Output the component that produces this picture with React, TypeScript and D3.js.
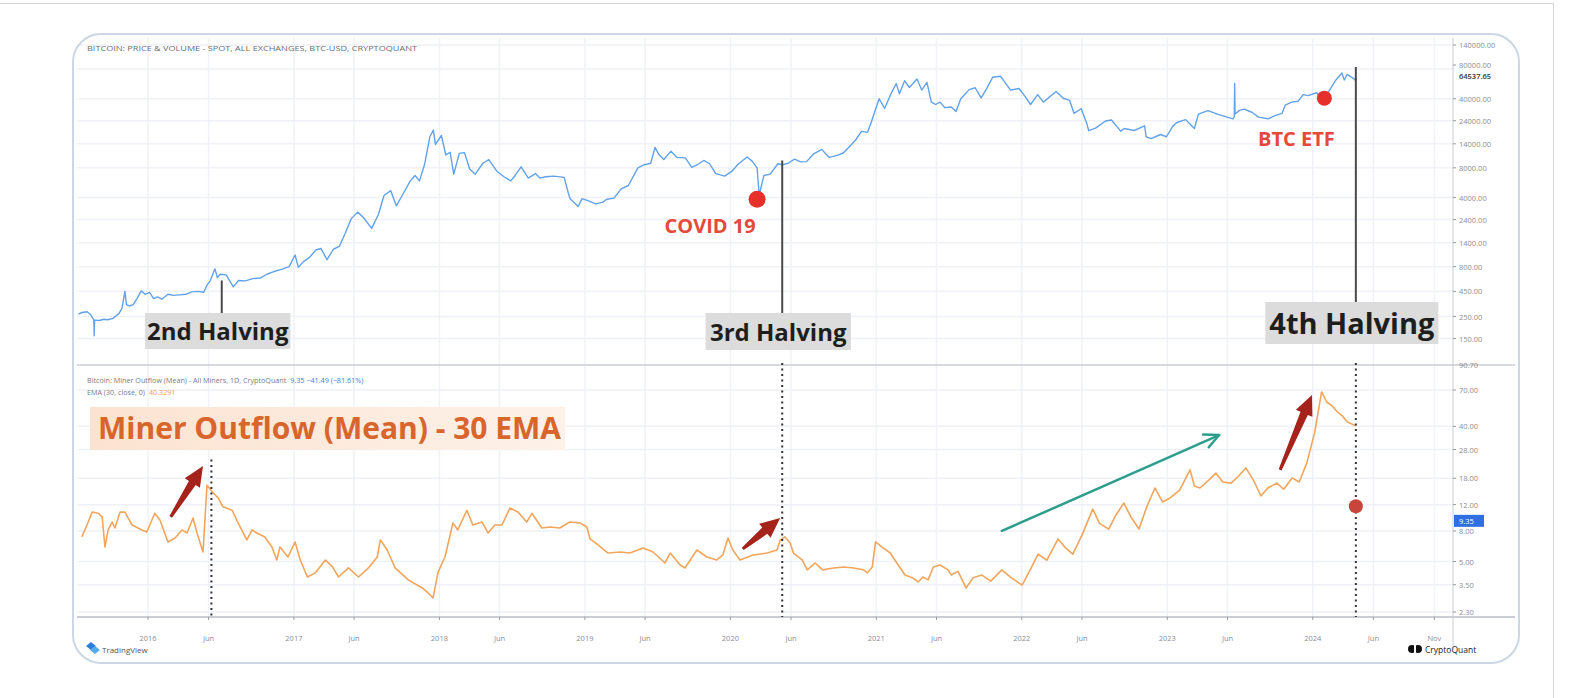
import React from 'react';
import * as d3 from 'd3';

// ---------- DATA ----------
const priceData: [string, number][] = [
  ['2015-07-10', 265], ['2015-07-20', 275], ['2015-08-01', 280], ['2015-08-10', 262], ['2015-08-18', 232],
  ['2015-08-19', 160], ['2015-08-20', 230], ['2015-09-01', 228], ['2015-09-12', 235], ['2015-09-22', 232],
  ['2015-10-05', 240], ['2015-10-20', 268], ['2015-10-28', 305], ['2015-11-04', 450], ['2015-11-08', 330],
  ['2015-11-15', 320], ['2015-11-25', 330], ['2015-12-05', 385], ['2015-12-15', 455], ['2015-12-25', 420],
  ['2016-01-05', 440], ['2016-01-15', 380], ['2016-01-25', 395], ['2016-02-05', 375], ['2016-02-20', 420],
  ['2016-03-05', 410], ['2016-03-20', 415], ['2016-04-05', 420], ['2016-04-20', 445], ['2016-05-05', 450],
  ['2016-05-20', 440], ['2016-05-28', 520], ['2016-06-05', 575], ['2016-06-17', 760], ['2016-06-23', 620],
  ['2016-06-30', 670], ['2016-07-15', 660], ['2016-08-02', 500], ['2016-08-15', 580], ['2016-09-01', 575],
  ['2016-09-20', 605], ['2016-10-10', 615], ['2016-10-25', 670], ['2016-11-10', 710], ['2016-12-01', 750],
  ['2016-12-20', 800], ['2017-01-04', 1050], ['2017-01-12', 790], ['2017-01-25', 900], ['2017-02-10', 1000],
  ['2017-02-25', 1180], ['2017-03-10', 1220], ['2017-03-25', 940], ['2017-04-10', 1200], ['2017-04-25', 1280],
  ['2017-05-10', 1750], ['2017-05-25', 2450], ['2017-06-10', 2850], ['2017-06-25', 2500], ['2017-07-15', 1950],
  ['2017-08-01', 2700], ['2017-08-15', 4200], ['2017-09-01', 4700], ['2017-09-15', 3300], ['2017-10-01', 4300],
  ['2017-10-20', 5900], ['2017-11-01', 6700], ['2017-11-12', 5900], ['2017-11-25', 8700], ['2017-12-08', 16500],
  ['2017-12-17', 19300], ['2017-12-22', 13800], ['2018-01-06', 17000], ['2018-01-17', 10800], ['2018-01-28', 11500],
  ['2018-02-06', 6900], ['2018-02-20', 11200], ['2018-03-05', 11400], ['2018-03-18', 7800], ['2018-04-01', 6900],
  ['2018-04-20', 8900], ['2018-05-05', 9700], ['2018-05-25', 7400], ['2018-06-12', 6500], ['2018-06-29', 5900],
  ['2018-07-10', 6700], ['2018-07-25', 8200], ['2018-08-12', 6300], ['2018-08-30', 7000], ['2018-09-10', 6300],
  ['2018-09-25', 6500], ['2018-10-15', 6600], ['2018-11-10', 6400], ['2018-11-20', 4500], ['2018-11-25', 3900],
  ['2018-12-15', 3250], ['2018-12-25', 3900], ['2019-01-10', 3700], ['2019-01-28', 3450], ['2019-02-15', 3600],
  ['2019-02-25', 3850], ['2019-03-15', 3950], ['2019-04-02', 4900], ['2019-04-20', 5300], ['2019-05-14', 8000],
  ['2019-05-30', 8600], ['2019-06-15', 8900], ['2019-06-26', 12900], ['2019-07-05', 11000], ['2019-07-18', 9700],
  ['2019-08-05', 11800], ['2019-08-20', 10200], ['2019-09-10', 10100], ['2019-09-26', 8100], ['2019-10-10', 8600],
  ['2019-10-26', 9500], ['2019-11-10', 8800], ['2019-11-25', 7000], ['2019-12-18', 6600], ['2020-01-05', 7400],
  ['2020-01-20', 8700], ['2020-02-12', 10300], ['2020-02-25', 9300], ['2020-03-08', 8000], ['2020-03-12', 4900],
  ['2020-03-13', 4200], ['2020-03-25', 6700], ['2020-04-10', 6900], ['2020-04-29', 8800], ['2020-05-11', 8600],
  ['2020-05-25', 8900], ['2020-06-10', 9800], ['2020-06-25', 9200], ['2020-07-10', 9250], ['2020-07-27', 11000],
  ['2020-08-17', 12300], ['2020-09-05', 10200], ['2020-09-25', 10700], ['2020-10-10', 11300], ['2020-10-25', 13000],
  ['2020-11-10', 15300], ['2020-11-25', 18700], ['2020-12-10', 18300], ['2020-12-20', 23500], ['2021-01-08', 40000],
  ['2021-01-22', 32000], ['2021-02-08', 46000], ['2021-02-20', 57000], ['2021-02-28', 45000], ['2021-03-13', 61000],
  ['2021-03-25', 52000], ['2021-04-13', 63500], ['2021-04-25', 49000], ['2021-05-08', 58500], ['2021-05-19', 37000],
  ['2021-05-30', 35000], ['2021-06-10', 37000], ['2021-06-22', 32500], ['2021-07-08', 33000], ['2021-07-20', 29800],
  ['2021-08-01', 40000], ['2021-08-22', 49500], ['2021-09-06', 51700], ['2021-09-21', 40800], ['2021-10-06', 51500],
  ['2021-10-20', 66000], ['2021-11-09', 67500], ['2021-11-26', 54000], ['2021-12-04', 49000], ['2021-12-25', 50800],
  ['2022-01-10', 41800], ['2022-01-23', 35000], ['2022-02-10', 44000], ['2022-02-24', 37000], ['2022-03-28', 47300],
  ['2022-04-15', 40500], ['2022-05-01', 38500], ['2022-05-12', 28500], ['2022-05-30', 31700], ['2022-06-13', 22500],
  ['2022-06-18', 19000], ['2022-07-05', 20200], ['2022-07-30', 23800], ['2022-08-14', 24400], ['2022-09-06', 18800],
  ['2022-09-15', 20000], ['2022-10-10', 19100], ['2022-11-05', 21300], ['2022-11-09', 16500], ['2022-11-21', 15800],
  ['2022-12-15', 17400], ['2022-12-30', 16500], ['2023-01-14', 20900], ['2023-01-25', 23000], ['2023-02-16', 24600],
  ['2023-03-10', 20000], ['2023-03-20', 28000], ['2023-04-13', 30400], ['2023-05-10', 27600], ['2023-06-15', 25000],
  ['2023-06-18', 26500], ['2023-06-19', 57000], ['2023-06-20', 28000], ['2023-07-01', 30500], ['2023-07-13', 31400],
  ['2023-08-01', 29200], ['2023-08-18', 26100], ['2023-09-11', 25100], ['2023-09-28', 27000], ['2023-10-16', 28500],
  ['2023-10-24', 34500], ['2023-11-09', 37000], ['2023-11-25', 37800], ['2023-12-08', 44000], ['2023-12-20', 43000],
  ['2024-01-11', 46000], ['2024-01-23', 39500], ['2024-02-10', 47500], ['2024-02-28', 62000], ['2024-03-14', 73000],
  ['2024-03-20', 62000], ['2024-03-27', 70500], ['2024-04-13', 64000], ['2024-04-17', 61500], ['2024-04-19', 64537.65],
];

const emaData: [string, number][] = [
  ['2015-07-19', 7.3], ['2015-08-01', 8.77], ['2015-08-14', 10.7], ['2015-08-29', 10.5], ['2015-09-08', 9.93],
  ['2015-09-15', 6.25], ['2015-09-23', 8.13], ['2015-10-03', 9.18], ['2015-10-10', 8.38], ['2015-10-23', 10.7],
  ['2015-11-04', 10.7], ['2015-11-22', 8.77], ['2015-12-17', 8.13], ['2015-12-29', 7.87], ['2016-01-18', 10.5],
  ['2016-01-31', 9.48], ['2016-02-20', 6.76], ['2016-03-09', 7.18], ['2016-03-26', 8.13], ['2016-04-08', 7.76],
  ['2016-04-23', 9.77], ['2016-05-03', 7.76], ['2016-05-18', 5.79], ['2016-05-28', 16.2], ['2016-06-12', 14.4],
  ['2016-06-25', 13.3], ['2016-07-07', 11.6], ['2016-07-30', 11.0], ['2016-08-14', 9.06], ['2016-09-05', 6.97],
  ['2016-09-18', 8.13], ['2016-09-30', 7.76], ['2016-10-20', 7.3], ['2016-11-07', 6.25], ['2016-11-19', 5.12],
  ['2016-11-27', 6.25], ['2016-12-17', 5.36], ['2017-01-04', 6.76], ['2017-01-17', 5.12], ['2017-02-04', 3.94],
  ['2017-02-24', 4.2], ['2017-03-21', 5.12], ['2017-04-08', 4.6], ['2017-04-23', 3.94], ['2017-05-18', 4.53],
  ['2017-06-12', 3.94], ['2017-07-07', 4.53], ['2017-07-29', 5.36], ['2017-08-06', 6.97], ['2017-08-23', 5.97],
  ['2017-09-12', 4.53], ['2017-10-15', 3.77], ['2017-11-19', 3.33], ['2017-12-04', 3.08], ['2017-12-16', 2.86],
  ['2017-12-29', 4.26], ['2018-01-15', 5.36], ['2018-02-04', 9.06], ['2018-02-16', 8.13], ['2018-03-11', 11.0],
  ['2018-03-26', 8.77], ['2018-04-18', 9.18], ['2018-05-03', 7.76], ['2018-05-20', 8.77], ['2018-06-07', 8.77],
  ['2018-06-27', 11.4], ['2018-07-17', 10.7], ['2018-08-08', 9.18], ['2018-08-21', 10.5], ['2018-09-15', 8.38],
  ['2018-10-05', 8.51], ['2018-10-30', 8.38], ['2018-11-24', 9.18], ['2018-12-19', 9.06], ['2019-01-06', 8.51],
  ['2019-01-14', 7.08], ['2019-02-03', 6.45], ['2019-02-28', 5.7], ['2019-03-30', 5.79], ['2019-04-24', 5.7],
  ['2019-05-27', 6.16], ['2019-06-21', 5.79], ['2019-07-21', 4.89], ['2019-08-03', 5.7], ['2019-08-28', 4.74],
  ['2019-09-09', 4.53], ['2019-10-09', 5.97], ['2019-11-03', 5.36], ['2019-11-28', 5.12], ['2019-12-13', 5.53],
  ['2019-12-26', 7.18], ['2020-01-07', 5.97], ['2020-01-25', 5.12], ['2020-02-27', 5.53], ['2020-04-02', 5.7],
  ['2020-04-27', 5.97], ['2020-05-05', 6.97], ['2020-05-17', 7.3], ['2020-05-30', 6.65], ['2020-06-07', 5.7],
  ['2020-06-29', 5.12], ['2020-07-12', 4.4], ['2020-08-01', 4.89], ['2020-08-19', 4.4], ['2020-09-16', 4.53],
  ['2020-10-11', 4.6], ['2020-11-05', 4.53], ['2020-11-30', 4.4], ['2020-12-10', 4.2], ['2020-12-22', 4.6],
  ['2020-12-30', 6.76], ['2021-01-18', 6.16], ['2021-02-05', 5.7], ['2021-02-25', 4.74], ['2021-03-14', 4.06],
  ['2021-04-03', 3.88], ['2021-04-16', 3.65], ['2021-04-28', 3.94], ['2021-05-11', 3.77], ['2021-05-24', 4.6],
  ['2021-06-10', 4.74], ['2021-06-30', 4.4], ['2021-07-08', 4.06], ['2021-07-25', 4.3], ['2021-08-14', 3.33],
  ['2021-09-01', 3.9], ['2021-09-23', 4.06], ['2021-10-15', 3.7], ['2021-11-12', 4.4], ['2021-12-05', 3.9],
  ['2022-01-02', 3.48], ['2022-01-20', 4.3], ['2022-02-11', 5.61], ['2022-03-05', 5.1], ['2022-04-02', 7.08],
  ['2022-04-20', 6.2], ['2022-05-09', 5.61], ['2022-06-01', 7.5], ['2022-06-28', 11.2], ['2022-07-15', 9.0],
  ['2022-08-07', 8.24], ['2022-08-25', 10.2], ['2022-09-14', 12.3], ['2022-10-01', 10.0], ['2022-10-22', 8.24],
  ['2022-11-10', 11.5], ['2022-12-01', 15.5], ['2022-12-20', 12.5], ['2023-01-08', 13.3], ['2023-02-01', 15.0],
  ['2023-02-27', 20.5], ['2023-03-10', 16.0], ['2023-03-24', 15.5], ['2023-04-15', 17.5], ['2023-05-03', 19.5],
  ['2023-05-20', 17.0], ['2023-06-10', 16.7], ['2023-06-28', 18.5], ['2023-07-17', 21.1], ['2023-08-05', 17.5],
  ['2023-08-24', 13.7], ['2023-09-10', 15.5], ['2023-10-03', 16.7], ['2023-10-20', 15.2], ['2023-11-10', 18.1],
  ['2023-11-28', 17.0], ['2023-12-17', 22.8], ['2024-01-06', 36.6], ['2024-01-23', 67.9], ['2024-02-05', 58.2],
  ['2024-02-18', 55.0], ['2024-03-03', 49.9], ['2024-03-15', 47.0], ['2024-03-28', 42.8], ['2024-04-18', 40.3],
];

const priceTicks = [140000, 80000, 40000, 24000, 14000, 8000, 4000, 2400, 1400, 800, 450, 250, 150];
const emaTicks = [70, 40, 28, 18, 12, 8, 5, 3.5, 2.3];
const xTicks: [string, string][] = [
  ['2016-01-01', '2016'], ['2016-06-01', 'Jun'], ['2017-01-01', '2017'], ['2017-06-01', 'Jun'],
  ['2018-01-01', '2018'], ['2018-06-01', 'Jun'], ['2019-01-01', '2019'], ['2019-06-01', 'Jun'],
  ['2020-01-01', '2020'], ['2020-06-01', 'Jun'], ['2021-01-01', '2021'], ['2021-06-01', 'Jun'],
  ['2022-01-01', '2022'], ['2022-06-01', 'Jun'], ['2023-01-01', '2023'], ['2023-06-01', 'Jun'],
  ['2024-01-01', '2024'], ['2024-06-01', 'Jun'], ['2024-11-01', 'Nov'],
];

const halvingLabels = ['2nd Halving', '3rd Halving', '4th Halving'];
const halvingTopDates = ['2016-07-04', '2020-05-10', '2024-04-18'];
const halvingTopValues = [580, 9500, 84000];
const halvingBottomDates = ['2016-06-08', '2020-05-10', '2024-04-18'];
const halvingBottomValues = [24, 106, 106];

const eventLabels = ['COVID 19', 'BTC ETF'];
const eventDates = ['2020-03-08', '2024-01-30'];
const eventValues = [3850, 40600];

const halvingDotDate = '2024-04-18';
const halvingDotValue = 11.7;

// arrows: [tailDate, tailValue, tipDate, tipValue] on EMA pane
const redArrows: [string, number, string, number][] = [
  ['2016-02-27', 9.93, '2016-05-18', 21.7],
  ['2020-02-01', 6.07, '2020-05-05', 9.77],
  ['2023-10-11', 20.5, '2023-12-30', 64.9],
];
const tealArrow: [string, number, string, number] = ['2021-11-12', 8.0, '2023-05-11', 35.0];

const lastPriceLabel = '64537.65';
const lastEmaLabel = '9.35';
const titleTop = 'BITCOIN: PRICE & VOLUME - SPOT, ALL EXCHANGES, BTC-USD, CRYPTOQUANT';
const legend1 = 'Bitcoin: Miner Outflow (Mean) - All Miners, 1D, CryptoQuant';
const legend1Val = '9.35  \u221241.49 (\u221281.61%)';
const legend2 = 'EMA (30, close, 0)';
const legend2Val = '40.3291';
const bigTitle = 'Miner Outflow (Mean) - 30 EMA';

// ---------- CHART ----------
const W = 1595;
const H = 698;
const parse = d3.utcParse('%Y-%m-%d');
const P = (s: string) => parse(s) as Date;

const x = d3.scaleUtc().domain([P('2016-01-01'), P('2024-01-01')]).range([148, 1312.8]);
const yP = d3.scaleLog().domain([150, 140000]).range([338.5, 45]);
const yE = d3.scaleLog().domain([2.3, 70]).range([612, 390]);

const L = 77;
const R = 1453;
const topY0 = 38;
const sepY = 365;
const axisY = 617;
const FONT = '"Open Sans", "Noto Sans", sans-serif';

function arrowPath(x1: number, y1: number, x2: number, y2: number) {
  const dx = x2 - x1, dy = y2 - y1;
  const len = Math.hypot(dx, dy);
  const ux = dx / len, uy = dy / len;
  const nx = -uy, ny = ux;
  const headL = 20, headW = 9, shaftW0 = 1.5, shaftW1 = 4;
  const bx = x2 - ux * headL, by = y2 - uy * headL;
  const pts = [
    [x1 + nx * shaftW0, y1 + ny * shaftW0],
    [bx + nx * shaftW1, by + ny * shaftW1],
    [bx + nx * headW, by + ny * headW],
    [x2, y2],
    [bx - nx * headW, by - ny * headW],
    [bx - nx * shaftW1, by - ny * shaftW1],
    [x1 - nx * shaftW0, y1 - ny * shaftW0],
  ];
  return 'M' + pts.map((p) => p[0].toFixed(1) + ',' + p[1].toFixed(1)).join('L') + 'Z';
}

export default function App() {
  const priceLine = d3
    .line<[string, number]>()
    .x((d) => x(P(d[0])))
    .y((d) => yP(d[1]))(priceData) as string;
  const emaLine = d3
    .line<[string, number]>()
    .x((d) => x(P(d[0])))
    .y((d) => yE(d[1]))(emaData) as string;

  const tx1 = x(P(tealArrow[0])), ty1 = yE(tealArrow[1]);
  const tx2 = x(P(tealArrow[2])), ty2 = yE(tealArrow[3]);
  const ang = Math.atan2(ty2 - ty1, tx2 - tx1);
  const hl = 16;
  const tA = [tx2 - hl * Math.cos(ang - 0.45), ty2 - hl * Math.sin(ang - 0.45)];
  const tB = [tx2 - hl * Math.cos(ang + 0.45), ty2 - hl * Math.sin(ang + 0.45)];

  const halvFont = [24, 24, 29];
  const halvBoxH = [36, 37, 42];
  const halvBoxY = [313, 313, 302];

  return (
    <svg
      width={W}
      height={H}
      style={{ position: 'fixed', left: 0, top: 0, background: '#fff' }}
      fontFamily={FONT}
    >
      <defs>
        <linearGradient id="peach" x1="0" x2="1" y1="0" y2="0">
          <stop offset="0" stopColor="#fce3d1" />
          <stop offset="1" stopColor="#fdf1e8" />
        </linearGradient>
        <clipPath id="clipTop">
          <rect x={L} y={topY0} width={R - L} height={sepY - topY0} />
        </clipPath>
        <clipPath id="clipBot">
          <rect x={L} y={sepY} width={R - L} height={axisY - sepY} />
        </clipPath>
      </defs>
      <rect x={0} y={0} width={W} height={H} fill="#fff" />
      {/* page frame */}
      <line x1={0} x2={1553} y1={3.5} y2={3.5} stroke="#d4d4d4" strokeWidth={1} />
      <line x1={1553.5} x2={1553.5} y1={3} y2={H} stroke="#d4d4d4" strokeWidth={1} />

      {/* grid */}
      {xTicks.map(([d], i) => (
        <line key={'vg' + i} x1={x(P(d))} x2={x(P(d))} y1={topY0} y2={axisY} stroke="#f0f2f7" strokeWidth={1.5} />
      ))}
      {priceTicks.map((v, i) => (
        <line key={'hg' + i} x1={L} x2={R} y1={yP(v)} y2={yP(v)} stroke="#eff1f6" strokeWidth={1.5} />
      ))}
      {emaTicks.map((v, i) => (
        <line key={'eg' + i} x1={L} x2={R} y1={yE(v)} y2={yE(v)} stroke="#eff1f6" strokeWidth={1.5} />
      ))}

      {/* pane lines */}
      <line x1={L} x2={1515} y1={sepY} y2={sepY} stroke="#c9ccd3" strokeWidth={1.5} />
      <line x1={L} x2={1515} y1={axisY} y2={axisY} stroke="#b8bcc4" strokeWidth={1.5} />
      <line x1={R} x2={R} y1={topY0} y2={650} stroke="#c9ccd3" strokeWidth={1} />

      {/* axes labels right */}
      {priceTicks.map((v, i) => {
        const yy = v === 80000 ? yP(v) - 4 : yP(v);
        return (
          <g key={'pt' + i}>
            <line x1={R} x2={R + 3} y1={yy} y2={yy} stroke="#999" />
            <text x={R + 6} y={yy + 3} fontSize={7.5} fill="#8a8d95">
              {v.toFixed(2)}
            </text>
          </g>
        );
      })}
      <text x={R + 6} y={yP(64537.65) + 1} fontSize={7.5} fill="#333" fontWeight={600}>
        {lastPriceLabel}
      </text>
      <text x={R + 6} y={sepY + 3} fontSize={7.5} fill="#8a8d95">90.70</text>
      {emaTicks.map((v, i) => (
        <g key={'et' + i}>
          <line x1={R} x2={R + 3} y1={yE(v)} y2={yE(v)} stroke="#999" />
          <text x={R + 6} y={yE(v) + 3} fontSize={7.5} fill="#8a8d95">
            {v.toFixed(2)}
          </text>
        </g>
      ))}
      <rect x={R + 1} y={yE(9.35) - 6} width={30} height={12} fill="#2f6fe4" />
      <text x={R + 6} y={yE(9.35) + 3} fontSize={7.5} fill="#fff">
        {lastEmaLabel}
      </text>

      {/* x labels */}
      {xTicks.map(([d, lab], i) => (
        <g key={'xt' + i}>
          <line x1={x(P(d))} x2={x(P(d))} y1={axisY} y2={axisY + 3} stroke="#999" />
          <text x={x(P(d))} y={641} fontSize={7.5} fill="#8a8d95" textAnchor="middle">
            {lab}
          </text>
        </g>
      ))}

      {/* titles */}
      <text x={87} y={51} fontSize={7.2} fill="#6b6e75" textLength={330} lengthAdjust="spacingAndGlyphs">
        {titleTop}
      </text>
      <text x={87} y={383} fontSize={7.2} fill="#7a7d85">
        {legend1}
        <tspan fill="#3b7de3" dx={4}>{legend1Val}</tspan>
      </text>
      <text x={87} y={395} fontSize={7.2} fill="#7a7d85">
        {legend2}
        <tspan fill="#f0a23c" dx={4}>{legend2Val}</tspan>
      </text>

      {/* series */}
      <g clipPath="url(#clipTop)">
        <path d={priceLine} fill="none" stroke="#62a2ea" strokeWidth={1.4} strokeLinejoin="round" />
      </g>
      <g clipPath="url(#clipBot)">
        <path d={emaLine} fill="none" stroke="#f2a55c" strokeWidth={1.6} strokeLinejoin="round" />
      </g>

      {/* big title box */}
      <rect x={90} y={407} width={475} height={43} fill="url(#peach)" />
      <text x={98} y={439} fontSize={30} fontWeight={700} fill="#d8652b">
        {bigTitle}
      </text>

      {/* halving lines */}
      {halvingLabels.map((lab, i) => {
        const xt = x(P(halvingTopDates[i]));
        const xb = x(P(halvingBottomDates[i]));
        return (
          <g key={'hv' + i}>
            <line x1={xt} x2={xt} y1={yP(halvingTopValues[i])} y2={halvBoxY[i]} stroke="#4a4a4a" strokeWidth={2} />
            <line
              x1={xb}
              x2={xb}
              y1={yE(halvingBottomValues[i])}
              y2={axisY}
              stroke="#333"
              strokeWidth={2}
              strokeDasharray="2 3.5"
            />
          </g>
        );
      })}
      {halvingLabels.map((lab, i) => {
        const xt = x(P(halvingTopDates[i]));
        const fs = halvFont[i];
        const w = lab.length * fs * 0.505 + 12;
        return (
          <g key={'hl' + i}>
            <rect x={xt - 4 - w / 2} y={halvBoxY[i]} width={w} height={halvBoxH[i]} fill="#dcdcdc" />
            <text
              x={xt - 4}
              y={halvBoxY[i] + halvBoxH[i] - (i === 2 ? 10 : 9)}
              fontSize={fs}
              fontWeight={700}
              fill="#1e1e1e"
              textAnchor="middle"
            >
              {lab}
            </text>
          </g>
        );
      })}

      {/* events */}
      {eventLabels.map((lab, i) => {
        const ex = x(P(eventDates[i]));
        const ey = yP(eventValues[i]);
        const offs = i === 0 ? [-47, 34] : [-28, 48];
        return (
          <g key={'ev' + i}>
            <circle cx={ex} cy={ey} r={i === 0 ? 8.5 : 7.5} fill="#e8302a" />
            <text x={ex + offs[0]} y={ey + offs[1]} fontSize={20} fontWeight={700} fill="#e5493c" textAnchor="middle">
              {lab}
            </text>
          </g>
        );
      })}
      <circle cx={x(P(halvingDotDate))} cy={yE(halvingDotValue)} r={7} fill="#c9453b" />

      {/* arrows */}
      {redArrows.map((a, i) => (
        <path key={'ra' + i} d={arrowPath(x(P(a[0])), yE(a[1]), x(P(a[2])), yE(a[3]))} fill="#a6231b" />
      ))}
      <line x1={tx1} y1={ty1} x2={tx2} y2={ty2} stroke="#2e9e8c" strokeWidth={2.5} strokeLinecap="round" />
      <polyline
        points={`${tA[0]},${tA[1]} ${tx2},${ty2} ${tB[0]},${tB[1]}`}
        fill="none"
        stroke="#2e9e8c"
        strokeWidth={2.5}
        strokeLinecap="round"
        strokeLinejoin="round"
      />

      {/* logos */}
      <g>
        <path d="M86,646 l5,-4 l5,4 l-5,4 z" fill="#2d7fd8" />
        <path d="M90,650 l5,-4 l5,4 l-5,4 z" fill="#55a9ef" />
        <text x={102} y={653} fontSize={8} fill="#555">TradingView</text>
      </g>
      <g>
        <circle cx={1412} cy={649} r={4} fill="#111" />
        <circle cx={1418} cy={649} r={4} fill="#111" />
        <rect x={1414} y={644} width={2} height={10} fill="#fff" />
        <text x={1425} y={652.5} fontSize={8.5} fill="#222">CryptoQuant</text>
      </g>

      {/* outer rounded frame */}
      <rect x={73} y={34} width={1446} height={629} rx={28} ry={28} fill="none" stroke="#cbd7e4" strokeWidth={2} />
    </svg>
  );
}
